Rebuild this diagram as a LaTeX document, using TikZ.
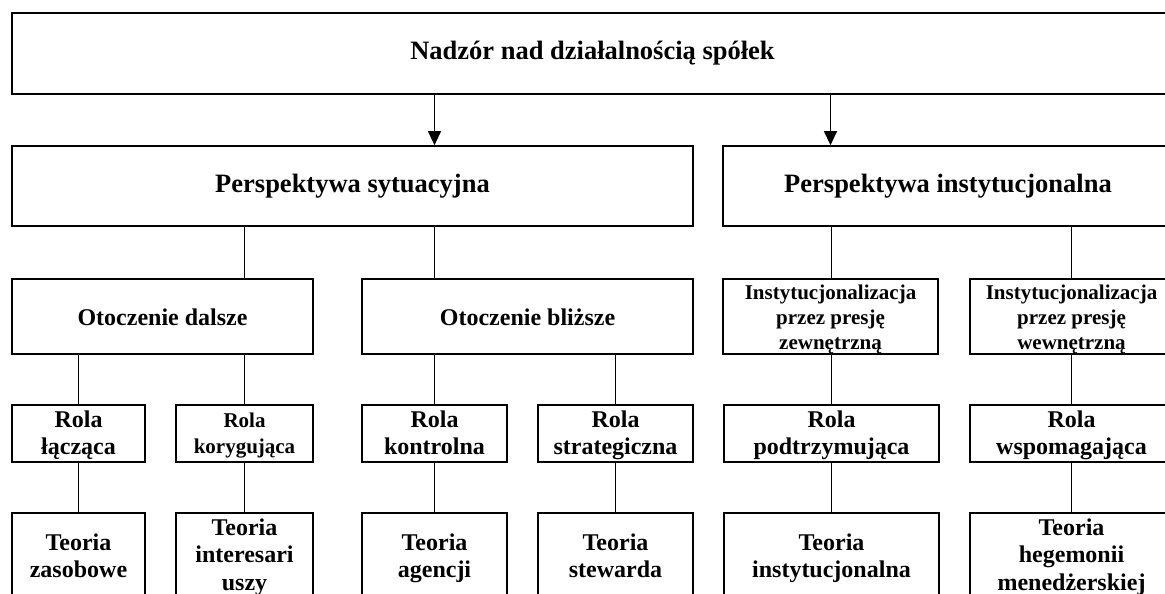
\documentclass[tikz,border=0pt]{standalone}
\usepackage{fontspec}
\setmainfont{Liberation Serif}
\usetikzlibrary{arrows.meta}
\begin{document}
\begin{tikzpicture}[x=1pt,y=-1pt,
  box/.style={draw,line width=1.7pt,rectangle,inner sep=0pt,align=center,
    font=\fontsize{24}{27.5}\selectfont\bfseries},
  big/.style={font=\fontsize{26.5}{30}\selectfont\bfseries},
  small/.style={font=\fontsize{21}{25}\selectfont\bfseries},
  smalltwo/.style={font=\fontsize{21}{26}\selectfont\bfseries},
  r3/.style={minimum height=75pt},
  r4/.style={minimum height=57pt},
  r5/.style={minimum height=86pt},
  % vertical placement of the text block (baseline = last line)
  oneline/.style={text height=22pt,text depth=5pt},
  instlines/.style={text height=70pt,text depth=5pt},
  rolelines/.style={text height=47pt,text depth=5pt},
  rolesmall/.style={text height=44pt,text depth=5pt},
  theotwo/.style={text height=48pt,text depth=5pt},
  theothree/.style={text height=73pt,text depth=5pt},
  link/.style={line width=1.2pt},
  arr/.style={line width=1.2pt,-{Triangle[width=13pt,length=14pt]}}]
\useasboundingbox (0,0) rectangle (1165,594);
\clip (0,0) rectangle (1165,594);

% top level
\node[box,big,minimum width=1161pt,minimum height=81pt] (top) at (592.5,53.5)
  {Nadzór nad działalnością spółek};

% perspectives
\node[box,big,minimum width=681pt,minimum height=80pt] (ps) at (352.5,186)
  {Perspektywa sytuacyjna};
\node[box,big,minimum width=450pt,minimum height=80pt] (pi) at (948,186)
  {Perspektywa instytucjonalna};

% environments / institutionalisation
\node[box,r3,oneline,minimum width=301pt] (od) at (162.5,316.5) {Otoczenie dalsze};
\node[box,r3,oneline,minimum width=331pt] (ob) at (527.5,316.5) {Otoczenie bliższe};
\node[box,r3,small,instlines,minimum width=215pt] (iz) at (830.5,316.5)
  {Instytucjonalizacja\\przez presję\\zewnętrzną};
\node[box,r3,small,instlines,minimum width=203pt] (iw) at (1071.5,316.5)
  {Instytucjonalizacja\\przez presję\\wewnętrzną};

% roles
\node[box,r4,rolelines,minimum width=133pt] (rl) at (78.5,433.5) {Rola\\łącząca};
\node[box,r4,smalltwo,rolesmall,minimum width=137pt] (rk) at (244.5,433.5) {Rola\\korygująca};
\node[box,r4,rolelines,minimum width=145pt] (rc) at (434.5,433.5) {Rola\\kontrolna};
\node[box,r4,rolelines,minimum width=155pt] (rs) at (615.5,433.5) {Rola\\strategiczna};
\node[box,r4,rolelines,minimum width=215pt] (rp) at (831.5,433.5) {Rola\\podtrzymująca};
\node[box,r4,rolelines,minimum width=203pt] (rw) at (1071.5,433.5) {Rola\\wspomagająca};

% theories
\node[box,r5,theotwo,minimum width=133pt] (tz) at (78.5,556) {Teoria\\zasobowe};
\node[box,r5,theothree,minimum width=137pt] (ti) at (244.5,556) {Teoria\\interesari\\uszy};
\node[box,r5,theotwo,minimum width=145pt] (ta) at (434.5,556) {Teoria\\agencji};
\node[box,r5,theotwo,minimum width=155pt] (ts) at (615.5,556) {Teoria\\stewarda};
\node[box,r5,theotwo,minimum width=215pt] (tn) at (831.5,556) {Teoria\\instytucjonalna};
\node[box,r5,theothree,minimum width=203pt] (th) at (1071.5,556) {Teoria\\hegemonii\\menedżerskiej};

% arrows from the top box
\draw[arr] (top.south -| rc.center) -- (ps.north -| rc.center);
\draw[arr] (top.south -| iz.center) -- (pi.north -| iz.center);

% connectors
\draw[link] (ps.south -| rk.center) -- (od.north -| rk.center);
\draw[link] (ps.south -| rc.center) -- (ob.north -| rc.center);
\draw[link] (pi.south -| rp.center) -- (iz.north -| rp.center);
\draw[link] (pi.south -| rw.center) -- (iw.north -| rw.center);

\draw[link] (od.south -| rl.center) -- (rl.north);
\draw[link] (od.south -| rk.center) -- (rk.north);
\draw[link] (ob.south -| rc.center) -- (rc.north);
\draw[link] (ob.south -| rs.center) -- (rs.north);
\draw[link] (iz.south -| rp.center) -- (rp.north);
\draw[link] (iw.south -| rw.center) -- (rw.north);

\draw[link] (rl) -- (tz);
\draw[link] (rk) -- (ti);
\draw[link] (rc) -- (ta);
\draw[link] (rs) -- (ts);
\draw[link] (rp) -- (tn);
\draw[link] (rw) -- (th);
\end{tikzpicture}
\end{document}
